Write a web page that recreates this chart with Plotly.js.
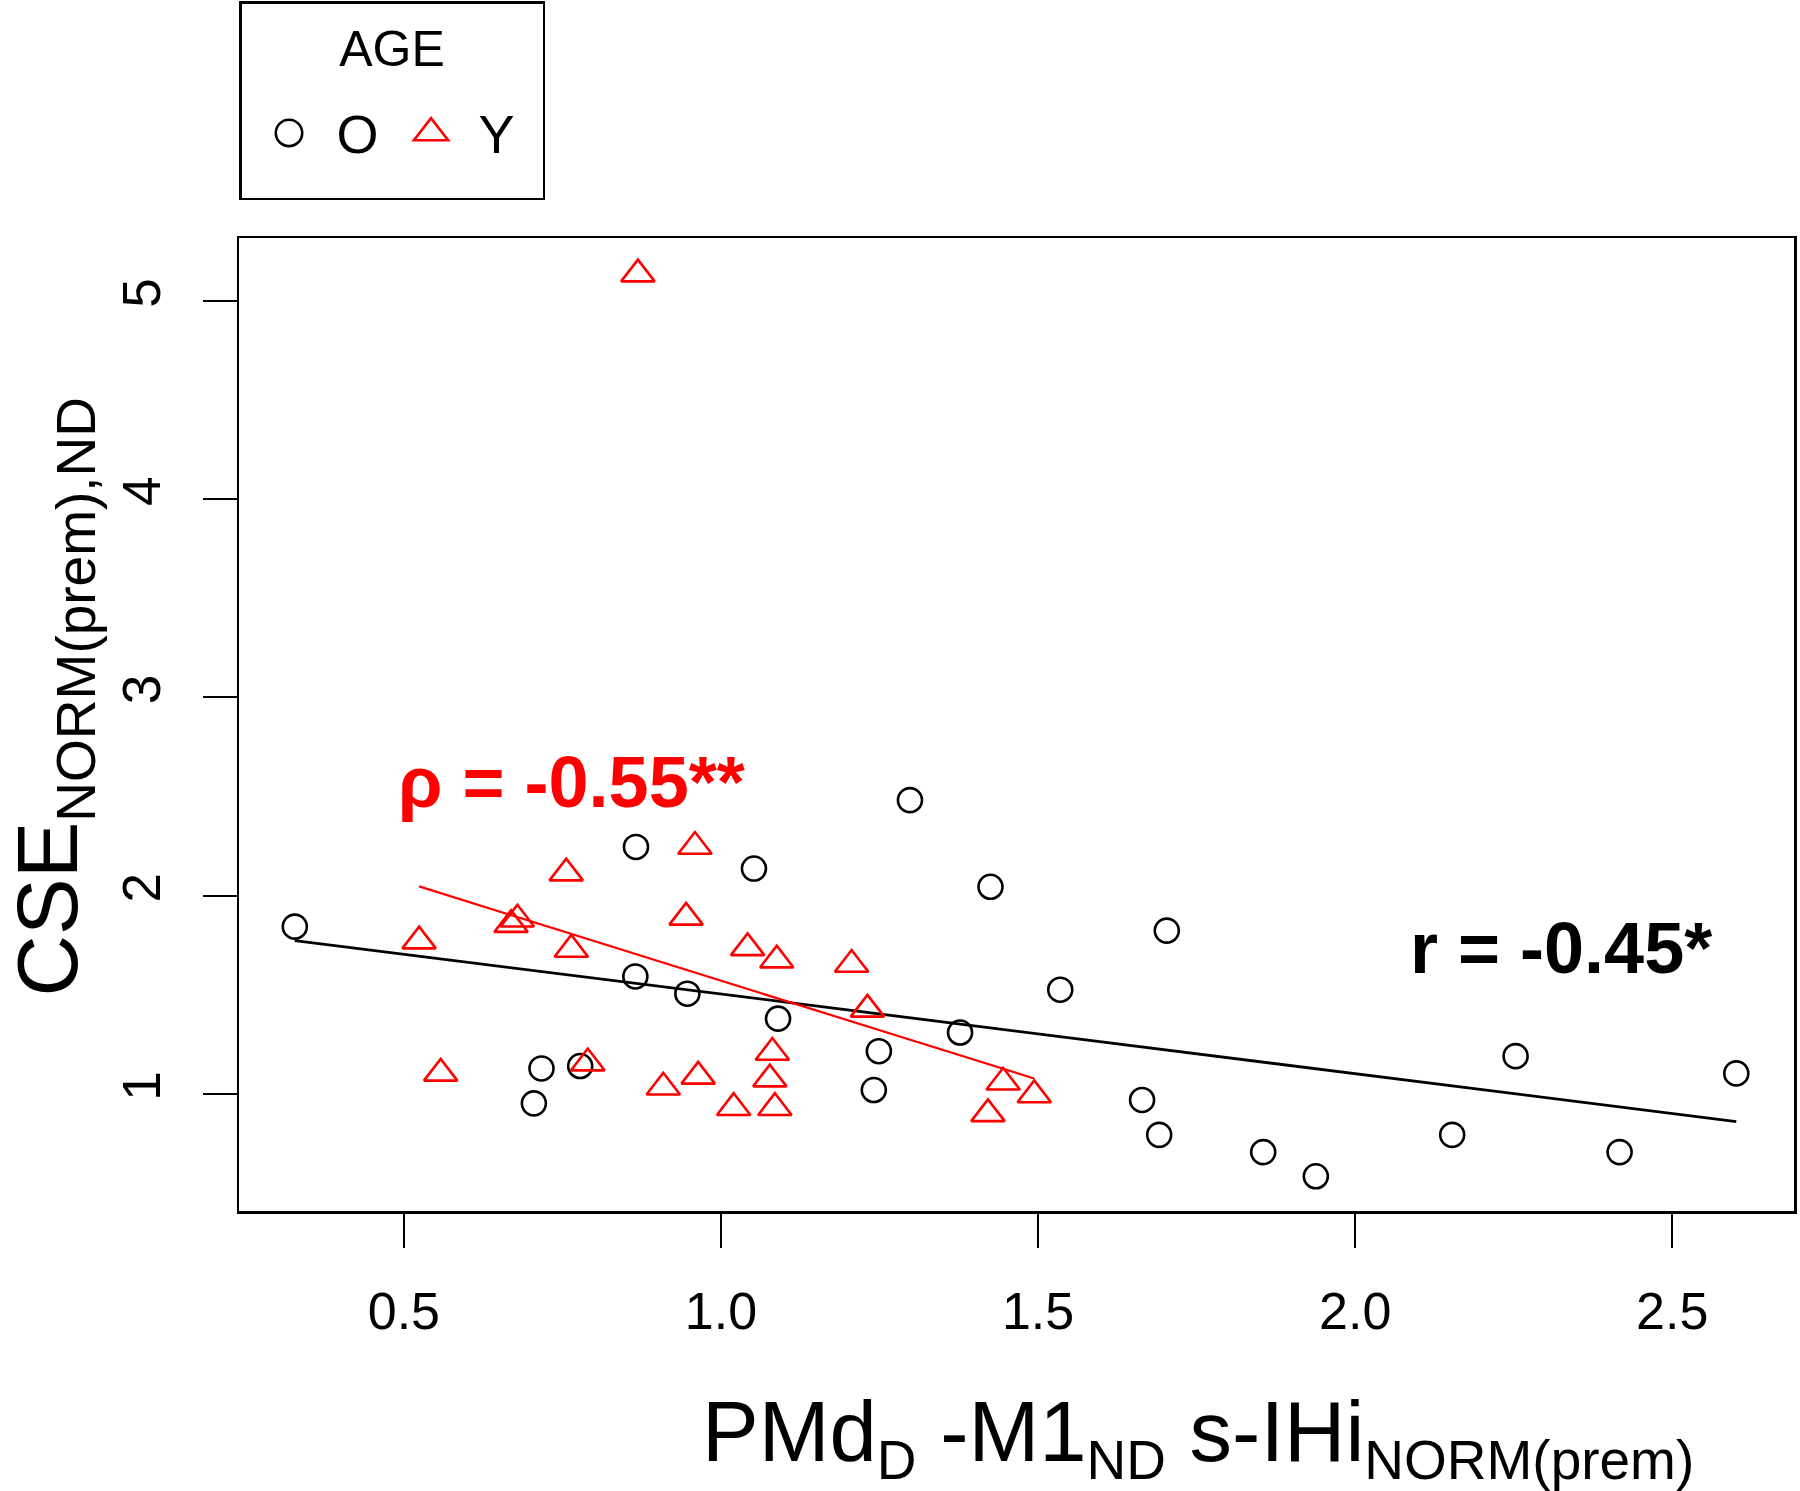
<!DOCTYPE html>
<html>
<head>
<meta charset="utf-8">
<script src="https://cdn.plot.ly/plotly-3.0.1.min.js"></script>
<style>
  html, body { margin: 0; padding: 0; background: #fff; }
  #chart { width: 1800px; height: 1491px; }
</style>
</head>
<body>
<div id="chart"></div>
<script>
// ---- Data ----
// Group O (older): black open circles
const oldX = [0.328, 0.866, 1.052, 1.298, 1.425, 0.865, 0.947, 1.090, 1.377, 1.249, 1.241, 0.717, 0.778, 0.705, 1.535, 1.703, 1.664, 1.691, 1.855, 1.938, 2.153, 2.253, 2.417, 2.601];
const oldY = [1.844, 2.246, 2.137, 2.482, 2.045, 1.593, 1.506, 1.380, 1.310, 1.216, 1.020, 1.129, 1.141, 0.953, 1.526, 1.824, 0.970, 0.794, 0.707, 0.585, 0.794, 1.191, 0.707, 1.104];
// Group Y (young): red open triangles
const youngX = [0.524, 0.558, 0.679, 0.669, 0.764, 0.756, 0.790, 0.909, 0.964, 0.959, 0.945, 1.020, 1.042, 1.088, 1.081, 1.077, 1.085, 1.206, 1.231, 1.445, 1.421, 1.494, 0.869];
const youngY = [1.771, 1.104, 1.881, 1.854, 1.729, 2.114, 1.156, 1.034, 1.089, 2.248, 1.891, 0.931, 1.737, 1.675, 1.209, 1.075, 0.931, 1.653, 1.427, 1.059, 0.900, 0.995, 5.135];
// Fitted lines (end points)
const fitAllX = [0.328, 2.601];
const fitAllY = [1.774, 0.861];
const fitYoungX = [0.524, 1.494];
const fitYoungY = [2.047, 1.078];
// Axis ticks
const xTickVals = [0.5, 1.0, 1.5, 2.0, 2.5];
const xTickText = ['0.5', '1.0', '1.5', '2.0', '2.5'];
const yTickVals = [1, 2, 3, 4, 5];
const yTickText = ['1', '2', '3', '4', '5'];
// Labels
const groupNames = ['O', 'Y'];
const legendTitle = 'AGE';
const rhoLabel = 'ρ = -0.55**';
const rLabel = 'r = -0.45*';
const xTitle = 'PMd<sub><span style="font-size:55px">D</span></sub> -M1<sub><span style="font-size:55px">ND</span></sub> s-IHi<sub><span style="font-size:55px">NORM(prem)</span></sub>';
const yTitle = 'CSE<sub><span style="font-size:55px">NORM(prem),ND</span></sub>';

const FONT = '"Liberation Sans", Arial, Helvetica, sans-serif';

// legend entry label: real text at 54px, lifted to line up with its symbol
function legendLabel(name, tail) {
  return '<span style="font-size:54px;baseline-shift:15px">' + name + '</span>' + (tail || '');
}

const traces = [
  {
    x: fitAllX, y: fitAllY, mode: 'lines', type: 'scatter',
    line: { color: '#000000', width: 2.8 }, showlegend: false, hoverinfo: 'skip'
  },
  {
    x: fitYoungX, y: fitYoungY, mode: 'lines', type: 'scatter',
    line: { color: '#ff0000', width: 2.2 }, showlegend: false, hoverinfo: 'skip'
  },
  {
    x: oldX, y: oldY, mode: 'markers', type: 'scatter',
    name: legendLabel(groupNames[0]),
    marker: { symbol: 'circle-open', size: 24, color: '#000000', line: { color: '#000000', width: 2.6 } }
  },
  {
    x: youngX, y: youngY, mode: 'markers', type: 'scatter',
    name: legendLabel(groupNames[1], '<span style="font-size:80px">\u00a0</span>'),
    marker: { symbol: 'triangle-up-open', size: 29, color: '#ff0000', line: { color: '#ff0000', width: 2.6 } }
  }
];

const layout = {
  width: 1800, height: 1491,
  margin: { l: 239, r: 6, t: 238, b: 280, pad: 0, autoexpand: false },
  paper_bgcolor: '#ffffff', plot_bgcolor: '#ffffff',
  font: { family: FONT, color: '#000000' },
  showlegend: true,
  legend: {
    x: 0, y: 1.2435, xanchor: 'left', yanchor: 'top',
    orientation: 'h',
    bordercolor: '#000000', borderwidth: 2.5, bgcolor: '#ffffff',
    font: { family: FONT, size: 89, color: '#000000' },
    title: { text: '<span style="baseline-shift:3px">' + legendTitle + '</span>', side: 'top center', font: { family: FONT, size: 50, color: '#000000' } },
    itemwidth: 85
  },
  xaxis: {
    range: [0.240, 2.692], autorange: false,
    tickmode: 'array', tickvals: xTickVals, ticktext: xTickText,
    ticks: 'outside', ticklen: 34, tickwidth: 2, tickcolor: '#000000',
    showline: true, mirror: true, linewidth: 2.5, linecolor: '#000000',
    showgrid: false, zeroline: false,
    tickfont: { family: FONT, size: 52, color: '#000000' },
    ticklabelstandoff: 19
  },
  yaxis: {
    range: [0.410, 5.317], autorange: false,
    tickmode: 'array', tickvals: yTickVals, ticktext: yTickText,
    tickangle: -90,
    ticks: 'outside', ticklen: 34, tickwidth: 2, tickcolor: '#000000',
    showline: true, mirror: true, linewidth: 2.5, linecolor: '#000000',
    showgrid: false, zeroline: false,
    tickfont: { family: FONT, size: 53, color: '#000000' },
    ticklabelstandoff: 21
  },
  annotations: [
    {
      x: 0.487, y: 2.573, xref: 'x', yref: 'y', xanchor: 'left', yanchor: 'middle',
      text: '<b>' + rhoLabel + '</b>', showarrow: false,
      font: { family: FONT, size: 72, color: '#ff0000' }
    },
    {
      x: 2.084, y: 1.736, xref: 'x', yref: 'y', xanchor: 'left', yanchor: 'middle',
      text: '<b>' + rLabel + '</b>', showarrow: false,
      font: { family: FONT, size: 72, color: '#000000' }
    },
    {
      x: 0.617, y: -0.2325, xref: 'paper', yref: 'paper', xanchor: 'center', yanchor: 'middle',
      text: xTitle, showarrow: false,
      font: { family: FONT, size: 85, color: '#000000' }
    },
    {
      x: -0.1195, y: 0.528, xref: 'paper', yref: 'paper', xanchor: 'center', yanchor: 'middle',
      text: yTitle, showarrow: false, textangle: -90,
      font: { family: FONT, size: 85, color: '#000000' }
    }
  ]
};

Plotly.newPlot('chart', traces, layout, { displayModeBar: false, staticPlot: true }).then(function (gd) {
  // Plotly caps legend symbols at 16px; enlarge them to the size used in the plot.
  const scales = [1.65, 1.85];
  gd.querySelectorAll('.legend .traces').forEach(function (item, i) {
    const s = scales[i] || 1.6;
    item.querySelectorAll('path.scatterpts').forEach(function (p) {
      const t = p.getAttribute('transform') || '';
      p.setAttribute('transform', t + ' scale(' + s + ')');
      p.style.strokeWidth = (2.6 / s) + 'px';
    });
  });
});
</script>
</body>
</html>
